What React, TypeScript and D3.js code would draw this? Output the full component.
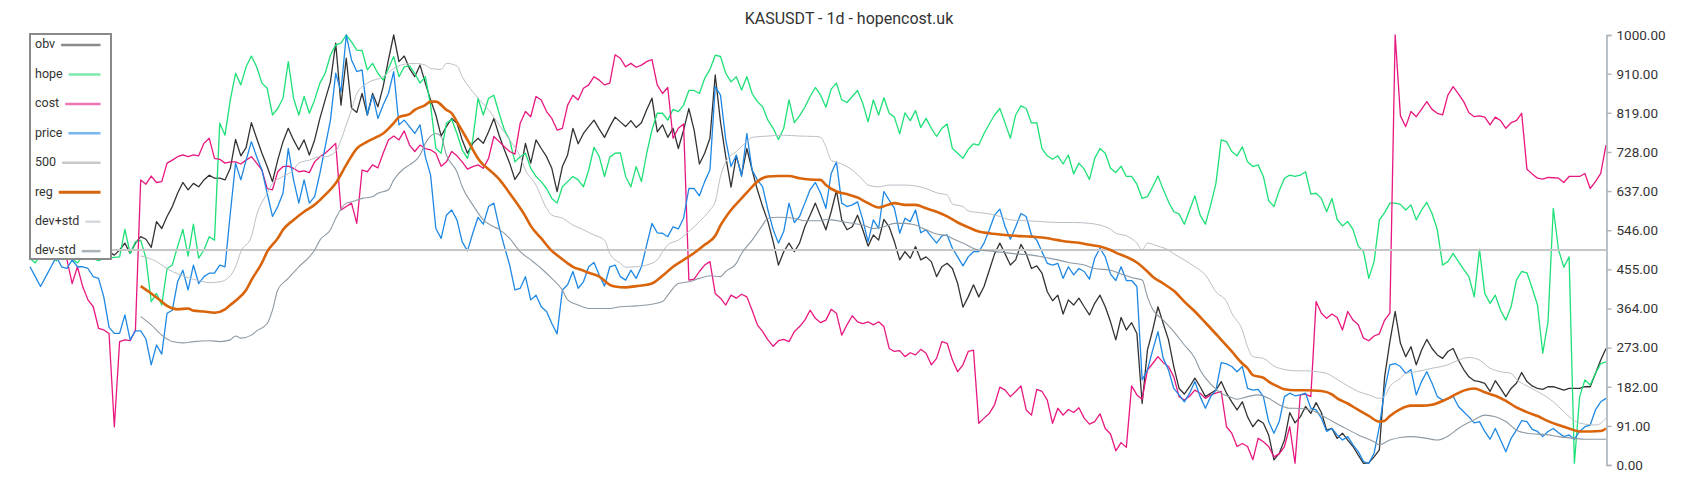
import React, { useEffect, useRef } from "react";
import * as d3 from "d3";

// ---------- data ----------
const title = "KASUSDT - 1d - hopencost.uk";
const yTicks = [0, 91, 182, 273, 364, 455, 546, 637, 728, 819, 910, 1000];
const baseline500 = 500;

const obv = [
  500, 495, 505, 510, 500, 490, 500, 505, 495, 500, 510, 505, 500, 495, 490, 496,
  488, 500, 516, 492, 516, 531, 525, 506, 566, 550, 578, 601, 632, 657, 640, 655, 647, 663, 674, 667, 667, 663, 690, 757, 719, 738, 796, 760, 725, 694, 659, 709, 752, 783, 756, 733, 756, 721, 756, 806, 849, 891, 981, 837,
  946, 830, 820, 864, 814, 864, 833, 880, 942, 1000,
  938, 951, 922, 903, 930, 888, 849, 814, 765, 787, 806, 795, 756, 725, 748, 760, 748, 775, 806, 767, 733, 702, 664, 682, 748, 702, 756, 736, 717, 690, 636, 694, 721, 783, 747, 771, 787, 802, 781, 762, 787, 809, 798, 787, 801, 785, 796, 826, 853, 775,
  791, 762, 783, 736, 779, 829, 779, 700, 725, 760, 907, 798, 717, 646, 719, 674, 736, 686, 640, 601, 566, 519, 465, 496, 516, 496, 516, 554, 581, 609, 578, 547, 589, 638, 570, 547, 554, 581, 547, 509, 535, 523, 571, 554, 519, 477, 496, 481, 508, 477, 484, 473, 438, 461, 469, 457, 422, 367, 391, 419,
  391, 415, 453, 491, 516, 491, 465, 477, 513, 491, 457, 463, 446, 403, 382, 395, 351, 384, 372, 388, 368, 349, 376, 395, 368, 333, 291, 343, 314, 331, 306, 143, 267, 314, 368, 329, 291, 229, 178, 165, 182, 202, 182, 159, 167, 174, 194, 167, 147, 128, 147, 112, 89, 105, 97, 70, 12, 27, 58, 122,
  98, 112, 136, 120, 145, 122, 81, 85, 62, 74, 58, 43, 23, 4, 5, 19, 35, 205, 287, 357, 283, 252, 275, 233, 267, 292, 271, 256, 248, 264, 271, 244, 222, 205, 196, 194, 190, 171, 196, 178, 159, 178, 190, 215, 194, 184, 178, 176, 182, 182, 178, 174, 178, 178, 178, 182, 182, 213, 244, 271,
];

const hope = [
  480, 470, 490, 500, 485, 475, 490, 495, 480, 470, 485, 490, 480, 475, 480, 482,
  483, 484, 548, 492, 519, 523, 481, 380, 399, 372, 457, 465, 508, 548, 486, 560, 481, 500, 531, 523, 795, 767, 849, 911, 884, 926, 951, 926, 888, 876, 814, 829, 853, 938, 853, 814, 857, 818, 849, 888, 911, 953, 977, 981,
  1000, 984, 965, 964, 919, 934, 911, 895, 922, 950, 903, 926, 928, 911, 888, 903, 837, 736, 725, 795, 804, 771, 733, 713, 756, 853, 814, 853, 860, 818, 779, 756, 705, 717, 725, 690, 671, 659, 643, 620, 609, 647, 659, 671, 663, 647, 686, 739, 717, 671, 716, 725, 726, 671, 647, 694, 659, 725, 779, 818,
  818, 802, 827, 822, 837, 871, 871, 864, 899, 920, 953, 950, 911, 891, 903, 872, 903, 864, 845, 833, 802, 783, 757, 783, 849, 796, 812, 832, 857, 878, 860, 832, 874, 888, 849, 843, 857, 871, 841, 798, 849, 814, 854, 818, 809, 770, 819, 801, 824, 785, 806, 783, 764, 783, 793, 736, 725, 713, 734, 747,
  744, 771, 793, 814, 829, 795, 760, 814, 835, 829, 795, 796, 736, 719, 711, 719, 700, 721, 677, 702, 688, 664, 713, 736, 725, 690, 680, 695, 671, 671, 653, 620, 624, 647, 672, 641, 612, 589, 584, 560, 593, 626, 581, 560, 605, 655, 756, 752, 729, 719, 740, 705, 694, 698, 671, 615, 601, 638, 667, 674,
  671, 674, 682, 630, 632, 620, 589, 620, 571, 556, 566, 548, 509, 496, 434, 473, 570, 587, 609, 609, 606, 593, 605, 570, 593, 611, 585, 547, 465, 473, 492, 473, 455, 438, 391, 502, 399, 376, 395, 360, 337, 368, 430, 450, 447, 411, 372, 260, 333, 597, 500, 460, 484, 4, 159, 198, 186, 213, 236, 240,
];

const cost = [
  520, 530, 525, 535, 540, 530, 500, 478,
  422, 461, 415, 384, 368, 318, 314, 306, 89, 287, 291, 289, 314, 663, 653, 672, 657, 659, 702, 709, 717, 721, 717, 721, 719, 748, 760, 713, 711, 702, 705, 705, 700, 709, 717, 702, 686, 643, 640, 682, 694, 695, 690, 682, 684, 680, 705, 717, 725, 736, 748, 593,
  601, 609, 562, 686, 682, 698, 691, 725, 756, 765, 756, 777, 744, 729, 744, 736, 733, 725, 695, 705,
  729, 719, 705, 688, 694, 698, 690, 713, 764, 752, 740, 729, 723, 795, 822, 810, 857, 849, 822, 806, 779, 783, 837, 860, 849, 876, 884, 903, 895, 884, 888, 954, 946, 926, 934, 925, 930, 938, 943, 884,
  864, 878, 760, 783, 793, 430, 432, 450, 465, 473, 399, 388, 372, 395, 388, 397, 391, 360, 326, 310, 291, 276, 289, 292, 287, 310, 322, 337, 360, 341, 331, 337, 362, 353, 302, 326, 347, 333, 329, 333, 326, 333, 322, 271, 264, 266, 252, 261, 256, 269, 260, 233, 248, 287, 283, 244, 217, 233, 264, 267,
  97, 109, 120, 140, 181, 174, 159, 171, 184, 128, 116, 176, 171, 151, 97, 132, 116, 129, 122, 133, 109, 95, 101, 119, 85, 72, 33, 52, 41, 184, 163, 153, 221, 236, 252, 238, 229, 205, 159, 151, 160, 174, 167, 155, 163, 167, 171, 89, 74, 43, 50, 43, 12, 62, 54, 43, 19, 26, 43, 89,
  4, 163, 165, 159, 380, 353, 341, 351, 343, 314, 357, 337, 326, 295, 289, 300, 305, 337, 353, 1000, 812, 787, 822, 810, 827, 845, 827, 818, 814, 860, 880, 863, 845, 819, 810, 812, 809, 791, 809, 801, 783, 796, 801, 818, 688, 677, 667, 665, 669, 668, 667, 657, 671, 671, 671, 678, 643, 659, 678, 744,
];

const price = [
  461, 438, 415, 438, 461, 484, 461, 457, 477, 461, 461, 457, 438, 434, 391, 320, 306, 306, 349, 291, 312, 312, 293, 233, 279, 258, 353, 360, 426, 453, 407, 465, 422, 438, 446, 446, 465, 461, 585, 702, 663, 709, 752, 717, 686, 632, 578, 601, 632, 736, 663, 609, 663, 609, 624, 678, 740, 802, 911, 868,
  1000, 942, 915, 919, 814, 860, 806, 837, 864, 915, 791, 802, 787, 771, 791, 717, 674, 550, 527, 581,
  593, 570, 519, 498, 539, 576, 560, 601, 609, 554, 508, 465, 407, 411, 438, 384, 395, 368, 357, 329, 305, 407, 419, 450, 411, 426, 461, 471, 442, 416, 461, 465, 438, 430, 453, 434, 461, 512, 562, 540,
  539, 531, 554, 549, 574, 643, 643, 626, 659, 686, 880, 860, 756, 694, 721, 671, 771, 686, 663, 647, 593, 547, 516, 543, 609, 564, 578, 609, 640, 657, 632, 597, 678, 705, 609, 601, 605, 612, 570, 519, 570, 550, 636, 616, 597, 539, 574, 566, 593, 540, 547, 531, 516, 533, 535, 504, 484, 463, 484, 496,
  496, 516, 547, 581, 595, 554, 525, 554, 585, 578, 535, 523, 496, 469, 465, 469, 434, 461, 442, 457, 450, 432, 481, 504, 484, 444, 429, 461, 429, 429, 415, 198, 221, 267, 310, 248, 221, 178, 163, 147, 167, 194, 159, 132, 159, 174, 238, 235, 229, 217, 229, 178, 174, 176, 159, 101, 74, 101, 159, 167,
  161, 163, 167, 132, 128, 109, 78, 85, 70, 58, 66, 47, 31, 8, 4, 27, 89, 174, 233, 236, 229, 213, 222, 163, 194, 217, 190, 159, 151, 153, 160, 136, 124, 112, 98, 101, 78, 60, 85, 58, 31, 62, 81, 103, 101, 83, 78, 66, 78, 85, 75, 66, 70, 60, 78, 89, 93, 128, 147, 155,
];

// smooth series, read at the listed day indices
const regIdx = [21, 23, 25, 26, 28, 30, 31, 33, 35, 37, 38, 39, 41, 42, 44, 45, 47, 48, 50, 52, 54, 55, 56, 58, 60, 62, 64, 66, 67, 69, 70, 72, 73, 75, 76, 77, 79, 80, 81, 83, 85, 86, 87, 89, 91, 92, 94, 95, 97, 99, 100, 102, 103, 105, 106, 108, 110, 111, 113, 115, 117, 118, 120, 122, 124, 126, 128, 130, 131, 133, 135, 137, 138, 140, 142, 144, 146, 148, 150, 151, 153, 155, 157, 159, 161, 162, 164, 166, 168, 170, 172, 174, 176, 178, 180, 182, 185, 187, 190, 192, 195, 197, 199, 201, 203, 205, 206, 208, 210, 212, 213, 215, 217, 219, 221, 223, 224, 226, 228, 230, 231, 232, 234, 235, 237, 238, 240, 242, 245, 247, 248, 250, 252, 254, 256, 257, 258, 260, 262, 264, 266, 268, 270, 272, 274, 276, 278, 280, 282, 284, 286, 288, 290, 292, 294, 296, 298, 299];
const reg = [416, 399, 380, 370, 362, 364, 359, 357, 354, 362, 372, 382, 407, 430, 470, 496, 527, 547, 570, 589, 605, 616, 628, 655, 698, 736, 752, 764, 771, 795, 809, 816, 826, 837, 845, 845, 826, 818, 798, 756, 713, 698, 688, 665, 632, 615, 578, 556, 527, 498, 488, 469, 461, 452, 447, 438, 419, 415, 413, 416, 419, 422, 440, 461, 477, 493, 512, 533, 557, 593, 620, 647, 659, 671, 672, 672, 667, 664, 663, 651, 636, 630, 622, 609, 599, 602, 609, 605, 605, 597, 589, 578, 564, 553, 543, 539, 535, 533, 531, 529, 523, 519, 517, 512, 508, 500, 494, 484, 471, 450, 438, 422, 405, 380, 357, 331, 318, 291, 264, 236, 225, 209, 203, 194, 181, 176, 174, 174, 172, 164, 155, 143, 128, 114, 101, 103, 114, 130, 138, 138, 140, 149, 161, 173, 178, 169, 161, 149, 134, 123, 114, 102, 93, 85, 78, 78, 79, 85];

const upIdx = [21, 24, 25, 27, 29, 31, 33, 34, 36, 38, 39, 40, 42, 43, 45, 46, 48, 50, 51, 53, 55, 56, 58, 59, 60, 61, 62, 64, 67, 69, 71, 73, 75, 76, 78, 79, 81, 82, 84, 85, 87, 89, 91, 93, 94, 96, 98, 99, 101, 103, 105, 107, 109, 110, 112, 113, 115, 117, 119, 120, 121, 123, 125, 127, 129, 130, 131, 132, 134, 136, 137, 140, 143, 146, 149, 150, 151, 152, 154, 156, 158, 159, 161, 163, 166, 168, 170, 172, 174, 175, 177, 178, 180, 182, 184, 186, 189, 192, 195, 198, 201, 203, 205, 206, 208, 210, 211, 212, 214, 216, 217, 219, 221, 223, 225, 227, 228, 230, 231, 232, 234, 236, 238, 240, 242, 244, 246, 248, 250, 252, 254, 256, 257, 258, 260, 261, 263, 266, 269, 271, 273, 275, 277, 279, 281, 282, 284, 286, 289, 291, 293, 295, 297, 298, 299];
const devPlus = [486, 473, 465, 450, 440, 432, 426, 424, 426, 440, 461, 496, 531, 581, 632, 655, 671, 686, 702, 709, 717, 717, 729, 756, 791, 826, 864, 888, 903, 922, 932, 934, 930, 922, 920, 934, 928, 903, 868, 853, 826, 791, 756, 717, 686, 651, 597, 581, 574, 558, 547, 535, 523, 492, 469, 460, 461, 465, 477, 496, 512, 523, 543, 566, 593, 612, 671, 705, 729, 752, 762, 765, 767, 765, 764, 762, 740, 709, 700, 686, 663, 651, 647, 651, 651, 649, 643, 633, 628, 607, 601, 591, 587, 584, 578, 570, 568, 566, 564, 564, 562, 558, 548, 539, 533, 516, 500, 516, 509, 500, 491, 477, 461, 442, 403, 380, 353, 314, 275, 252, 248, 230, 222, 219, 219, 217, 213, 199, 184, 171, 163, 155, 160, 182, 202, 213, 217, 225, 233, 244, 250, 244, 225, 217, 213, 199, 184, 171, 147, 124, 103, 95, 93, 97, 109];

const loIdx = [21, 23, 25, 27, 29, 31, 34, 36, 38, 39, 40, 42, 43, 45, 46, 47, 49, 51, 53, 54, 55, 57, 58, 60, 61, 63, 65, 66, 68, 69, 71, 72, 74, 75, 77, 78, 79, 81, 82, 84, 86, 88, 89, 91, 93, 95, 97, 99, 101, 102, 104, 106, 110, 112, 115, 117, 120, 121, 123, 125, 127, 129, 131, 132, 134, 135, 137, 139, 140, 142, 145, 147, 150, 151, 152, 155, 158, 160, 162, 164, 166, 168, 170, 172, 174, 175, 177, 180, 182, 185, 187, 190, 192, 195, 197, 200, 202, 205, 207, 209, 211, 212, 213, 215, 217, 219, 221, 222, 224, 226, 228, 229, 231, 233, 235, 237, 239, 240, 243, 246, 249, 252, 255, 256, 258, 260, 262, 265, 267, 269, 271, 274, 276, 278, 280, 282, 284, 288, 290, 293, 295, 299];
const devMinus = [345, 326, 302, 287, 284, 287, 289, 287, 291, 300, 295, 302, 312, 329, 360, 407, 434, 461, 484, 500, 523, 547, 574, 609, 612, 620, 624, 632, 640, 663, 690, 698, 721, 748, 771, 764, 721, 682, 647, 605, 570, 554, 548, 527, 496, 477, 457, 434, 407, 384, 372, 364, 364, 368, 370, 372, 380, 395, 422, 426, 434, 440, 438, 450, 469, 492, 523, 558, 574, 576, 574, 568, 568, 571, 570, 564, 558, 550, 554, 562, 562, 558, 547, 537, 533, 527, 516, 500, 498, 494, 491, 488, 484, 477, 471, 465, 457, 453, 444, 436, 430, 391, 362, 337, 310, 279, 248, 221, 188, 167, 157, 153, 159, 163, 155, 140, 132, 132, 128, 109, 89, 70, 54, 47, 58, 64, 66, 62, 58, 67, 85, 105, 116, 112, 101, 81, 74, 70, 66, 62, 60, 60];

// ---------- component ----------
const W = 1700;
const H = 500;
const FONT = "Roboto, 'Noto Sans', sans-serif";

const legendItems = [
  { name: "obv", color: "#8a8a8a", width: 2.5 },
  { name: "hope", color: "#7fe9aa", width: 2.5 },
  { name: "cost", color: "#ef74b3", width: 2.5 },
  { name: "price", color: "#78b5ef", width: 2.5 },
  { name: "500", color: "#c9c9c9", width: 2.5 },
  { name: "reg", color: "#d8660c", width: 2.8 },
  { name: "dev+std", color: "#d6dbdf", width: 2.5 },
  { name: "dev-std", color: "#aab3ba", width: 2.5 },
];

function measure(text: string, font: string) {
  const c = document.createElement("canvas").getContext("2d");
  if (!c) return text.length * 6.5;
  c.font = font;
  return c.measureText(text).width;
}

export default function App() {
  const axisRef = useRef<SVGGElement>(null);

  const x = d3.scaleLinear().domain([0, obv.length - 1]).range([30, 1606]);
  const y = d3.scaleLinear().domain([0, 1000]).range([465, 35]);

  useEffect(() => {
    if (!axisRef.current) return;
    const g = d3.select(axisRef.current);
    g.selectAll("*").remove();
    g.call(
      d3
        .axisRight(y)
        .tickValues(yTicks)
        .tickFormat((d: any) => Number(d).toFixed(2))
        .tickSize(5)
        .tickPadding(5)
    );
    g.selectAll("path.domain").attr("stroke", "#aab4bc").attr("stroke-width", 1.6);
    g.selectAll(".tick line").attr("stroke", "#aab4bc").attr("stroke-width", 1.4);
    g.selectAll(".tick text")
      .attr("fill", "#333")
      .style("font-family", FONT)
      .style("font-size", "13.5px");
  }, []);

  const lineArr = d3
    .line<number>()
    .x((_d, i) => x(i))
    .y((d) => y(d));

  const smooth = (idx: number[], vals: number[]) =>
    d3
      .line<number>()
      .x((_d, i) => x(idx[i]))
      .y((d) => y(d))
      .curve(d3.curveMonotoneX)(vals) || "";

  const legFont = `12.5px ${FONT}`;
  const legTop = 34;
  const legLeft = 30;
  const rowH = 29.45;

  return (
    <svg
      width={W}
      height={H}
      style={{ position: "absolute", left: 0, top: 0, background: "#fff" }}
      fontFamily={FONT}
    >
      <rect x={0} y={0} width={W} height={H} fill="#fff" />
      <text x={849} y={20} textAnchor="middle" dominantBaseline="middle" fontSize={16} fill="#333">
        {title}
      </text>

      <g fill="none" strokeLinejoin="round">
        <path d={lineArr(obv) || ""} stroke="#333333" strokeWidth={1.3} />
        <path d={lineArr(hope) || ""} stroke="#1ee077" strokeWidth={1.3} />
        <path d={lineArr(cost) || ""} stroke="#e8177f" strokeWidth={1.3} />
        <path d={lineArr(price) || ""} stroke="#1e88e5" strokeWidth={1.3} />
        <line
          x1={x(0)}
          x2={x(obv.length - 1)}
          y1={y(baseline500)}
          y2={y(baseline500)}
          stroke="#c6c6c6"
          strokeWidth={2}
        />
        <path d={smooth(regIdx, reg)} stroke="#d9640a" strokeWidth={2.6} />
        <path d={smooth(upIdx, devPlus)} stroke="#b9c0c6" strokeWidth={1} />
        <path d={smooth(loIdx, devMinus)} stroke="#8e9aa4" strokeWidth={1.1} />
      </g>

      <g ref={axisRef} transform={`translate(${1606.5},0)`} />

      <g>
        <rect
          x={legLeft}
          y={legTop}
          width={81}
          height={225}
          fill="#fff"
          stroke="#8a8a8a"
          strokeWidth={2}
        />
        {legendItems.map((it, k) => {
          const cy = 45 + k * rowH;
          const tw = measure(it.name, legFont);
          return (
            <g key={it.name}>
              <text x={35} y={cy} dominantBaseline="middle" fontSize={12.5} fill="#333">
                {it.name}
              </text>
              <line
                x1={35 + tw + 6}
                x2={100.5}
                y1={cy}
                y2={cy}
                stroke={it.color}
                strokeWidth={it.width}
              />
            </g>
          );
        })}
      </g>
    </svg>
  );
}
